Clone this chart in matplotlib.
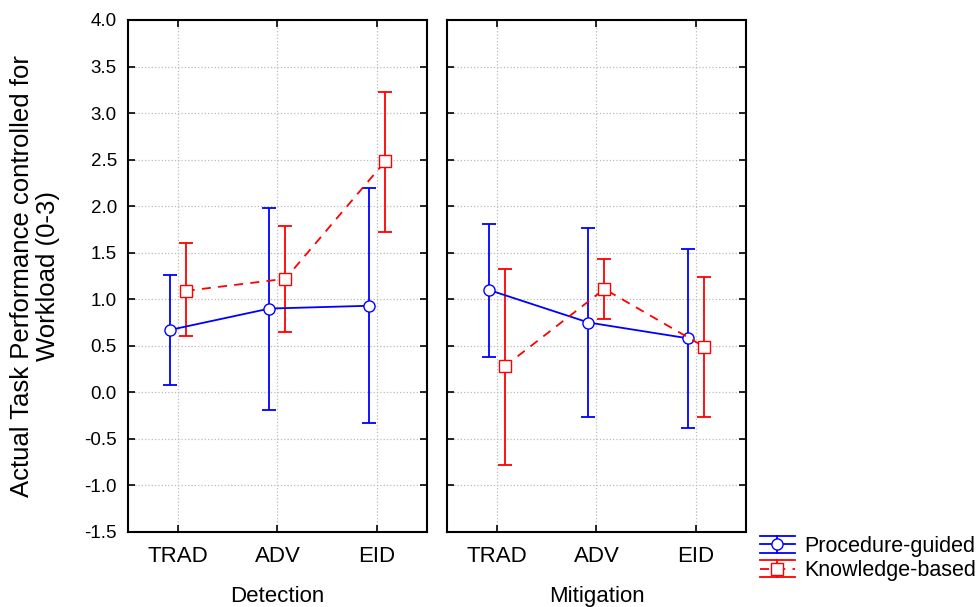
import matplotlib
matplotlib.use("Agg")
import matplotlib.pyplot as plt
from matplotlib.lines import Line2D
from matplotlib.legend_handler import HandlerBase
import numpy as np

plt.rcParams['font.family'] = ['Liberation Sans', 'DejaVu Sans']

# Data
categories = ['TRAD', 'ADV', 'EID']
panels = ['Detection', 'Mitigation']

proc_mean = [[0.67, 0.90, 0.93], [1.10, 0.75, 0.58]]
proc_low = [[0.08, -0.19, -0.33], [0.38, -0.26, -0.38]]
proc_high = [[1.26, 1.98, 2.19], [1.81, 1.76, 1.54]]

know_mean = [[1.09, 1.22, 2.48], [0.28, 1.11, 0.49]]
know_low = [[0.60, 0.65, 1.72], [-0.78, 0.79, -0.27]]
know_high = [[1.60, 1.79, 3.23], [1.32, 1.43, 1.24]]

BLUE = '#0000ff'
RED = '#ff0000'
DASH = (0, (5, 4))


# legend entry drawn like the reference: wide caps, centre line, marker
class HandlerEB(HandlerBase):
    def __init__(self, color, ls, marker):
        super().__init__()
        self.color = color
        self.ls = ls
        self.marker = marker

    def create_artists(self, legend, orig_handle, xdescent, ydescent,
                       width, height, fontsize, trans):
        x0, x1 = -xdescent, width - xdescent
        xm = (x0 + x1) / 2
        cy = height / 2 - ydescent
        d = 0.4 * fontsize
        arts = [
            Line2D([x0, x1], [cy + d, cy + d], color=self.color, lw=1.3),
            Line2D([x0, x1], [cy - d, cy - d], color=self.color, lw=1.3),
            Line2D([x0, x1], [cy, cy], color=self.color, lw=1.3, ls=self.ls),
            Line2D([xm, xm], [cy - d, cy + d], color=self.color, lw=1.3),
            Line2D([xm], [cy], marker=self.marker, ms=8, mfc='white',
                   mec=self.color, ls='none'),
        ]
        for a in arts:
            a.set_transform(trans)
        return arts


fig = plt.figure(figsize=(9.77, 6.07), dpi=100)
ax1 = fig.add_axes([0.131, 0.1236, 0.306, 0.8435])
ax2 = fig.add_axes([0.4575, 0.1236, 0.306, 0.8435])

x = np.arange(len(categories))
off = 0.08
yt = np.arange(-1.5, 4.01, 0.5)
for i, ax in enumerate([ax1, ax2]):
    pm = np.array(proc_mean[i])
    km = np.array(know_mean[i])
    p_err = [pm - np.array(proc_low[i]), np.array(proc_high[i]) - pm]
    k_err = [km - np.array(know_low[i]), np.array(know_high[i]) - km]
    ax.errorbar(x - off, pm, yerr=p_err, color=BLUE, marker='o', ms=8,
                mfc='white', mec=BLUE, ls='-', lw=1.3, capsize=5,
                elinewidth=1.3, capthick=1.3, zorder=3)
    ax.errorbar(x + off, km, yerr=k_err, color=RED, marker='s', ms=8,
                mfc='white', mec=RED, ls=DASH, lw=1.3, capsize=5,
                elinewidth=1.3, capthick=1.3, zorder=3)
    ax.set_xlim(-0.5, 2.5)
    ax.set_ylim(-1.5, 4.0)
    ax.set_xticks(x)
    ax.set_xticklabels(categories)
    ax.set_yticks(yt)
    ax.grid(True, color='#bbbbbb', ls=':', lw=0.9)
    ax.set_axisbelow(True)
    ax.tick_params(direction='in', top=True, right=True, length=5, width=1.2,
                   labelsize=13.5, pad=8)
    ax.tick_params(axis='x', pad=10, labelsize=16)
    for s in ax.spines.values():
        s.set_linewidth(1.5)
    ax.set_xlabel(panels[i], fontsize=16, va='center')
    ax.xaxis.set_label_coords(0.5, -0.127)

ax1.set_yticklabels(['%.1f' % v for v in yt])
ax2.tick_params(labelleft=False)
ax1.set_ylabel('Actual Task Performance controlled for\nWorkload (0-3)',
               fontsize=18.5, linespacing=1.1, va='center')
ax1.yaxis.set_label_coords(-0.31, 0.5)

p1 = Line2D([], [])
p2 = Line2D([], [])
fig.legend([p1, p2], ['Procedure-guided', 'Knowledge-based'],
           handler_map={p1: HandlerEB(BLUE, '-', 'o'), p2: HandlerEB(RED, DASH, 's')},
           loc='upper left', bbox_to_anchor=(0.778, 0.117),
           frameon=False, fontsize=15.5, handlelength=1.6, handletextpad=0.45,
           borderpad=0, borderaxespad=0, labelspacing=0.15)

fig.savefig('out.png', dpi=100)
